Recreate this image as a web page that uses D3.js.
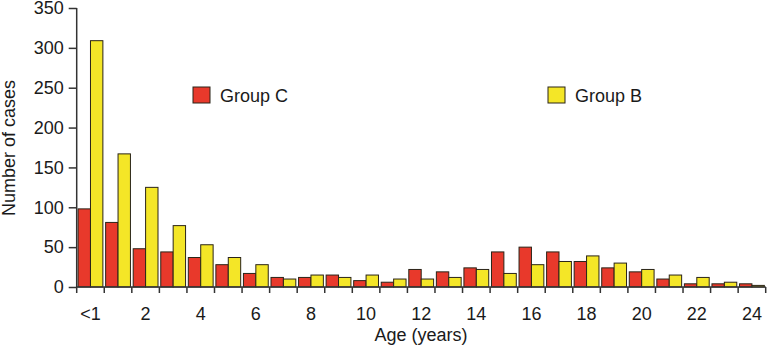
<!DOCTYPE html>
<html>
<head>
<meta charset="utf-8">
<script src="https://cdn.jsdelivr.net/npm/d3@7"></script>
<style>
  body { margin: 0; background: #fff; }
  text { font-family: "Liberation Sans", Arial, sans-serif; fill: #1a1a1a; }
</style>
</head>
<body>
<script>
// ages, "<1" then 1..24
var ages = ["<1"].concat(d3.range(1, 25).map(String));
var groupC = [98, 81, 48, 44, 37, 28, 17, 12, 12, 15, 8, 6, 22, 19, 24, 44, 50, 44, 32, 24, 19, 10, 4, 4, 4];
var groupB = [309, 167, 125, 77, 53, 37, 28, 10, 15, 12, 15, 10, 10, 12, 22, 17, 28, 32, 39, 30, 22, 15, 12, 6, 2];
var yTicks = [0, 50, 100, 150, 200, 250, 300, 350];
var xLabels = ["<1", "2", "4", "6", "8", "10", "12", "14", "16", "18", "20", "22", "24"];
var series = ["Group C", "Group B"];
var colors = ["#e8392b", "#f4e627"];

var W = 767, H = 347,
    mLeft = 76.7, mRight = 765.7, mTop = 8, mBottom = 287;

var svg = d3.select("body").append("svg").attr("width", W).attr("height", H);

var x = d3.scaleBand().domain(ages).range([mLeft, mRight]).paddingInner(0.1).paddingOuter(0.05),
    xs = d3.scaleBand().domain(series).range([0, x.bandwidth()]),
    y = d3.scaleLinear().domain([0, 350]).range([mBottom, mTop]);

// bars
var cats = svg.append("g").selectAll("g").data(ages).enter().append("g")
    .attr("transform", function(d) { return "translate(" + x(d) + ",0)"; });

cats.selectAll("rect")
    .data(function(d, i) { return [groupC[i], groupB[i]]; })
    .enter().append("rect")
    .attr("x", function(d, j) { return xs(series[j]); })
    .attr("y", function(d) { return y(d); })
    .attr("width", xs.bandwidth())
    .attr("height", function(d) { return mBottom - y(d); })
    .attr("fill", function(d, j) { return colors[j]; })
    .attr("stroke", "#2a2418")
    .attr("stroke-width", 1);

// y axis
var yAxis = svg.append("g").attr("transform", "translate(" + mLeft + ",0)")
    .call(d3.axisLeft(y).tickValues(yTicks).tickSize(8).tickPadding(5));
yAxis.select(".domain").attr("d", "M0," + y(350) + "V" + mBottom).attr("stroke", "#333").attr("stroke-width", 1.5);
yAxis.selectAll(".tick line").attr("stroke", "#333").attr("stroke-width", 1.5);
yAxis.selectAll("text").style("font-size", "18px").attr("font-family", null).attr("fill", "#1a1a1a");

// x axis: ticks at band boundaries
var bounds = d3.range(ages.length + 1).map(function(i) { return mLeft + i * x.step(); });
var xg = svg.append("g");
xg.append("line").attr("x1", mLeft).attr("x2", mRight).attr("y1", mBottom).attr("y2", mBottom)
    .attr("stroke", "#333").attr("stroke-width", 1.5);
xg.selectAll("line.t").data(bounds).enter().append("line").attr("class", "t")
    .attr("x1", function(d) { return d; }).attr("x2", function(d) { return d; })
    .attr("y1", mBottom).attr("y2", mBottom + 6)
    .attr("stroke", "#333").attr("stroke-width", 1.5);
xg.selectAll("text").data(xLabels).enter().append("text")
    .attr("x", function(d) { return x(d) + x.bandwidth() / 2; })
    .attr("y", 320)
    .attr("text-anchor", "middle")
    .style("font-size", "18px")
    .text(function(d) { return d; });

// axis titles
svg.append("text").attr("x", 421).attr("y", 341).attr("text-anchor", "middle")
    .style("font-size", "18px").text("Age (years)");
svg.append("text").attr("transform", "translate(15,148)rotate(-90)").attr("text-anchor", "middle")
    .style("font-size", "18px").text("Number of cases");

// legend
var legendX = [193, 548];
var leg = svg.append("g").selectAll("g").data(series).enter().append("g")
    .attr("transform", function(d, i) { return "translate(" + legendX[i] + ",87)"; });
leg.append("rect").attr("width", 17).attr("height", 16)
    .attr("fill", function(d, i) { return colors[i]; })
    .attr("stroke", "#2a2418").attr("stroke-width", 1);
leg.append("text").attr("x", 27).attr("y", 14.5).style("font-size", "18px")
    .text(function(d) { return d; });
</script>
</body>
</html>
